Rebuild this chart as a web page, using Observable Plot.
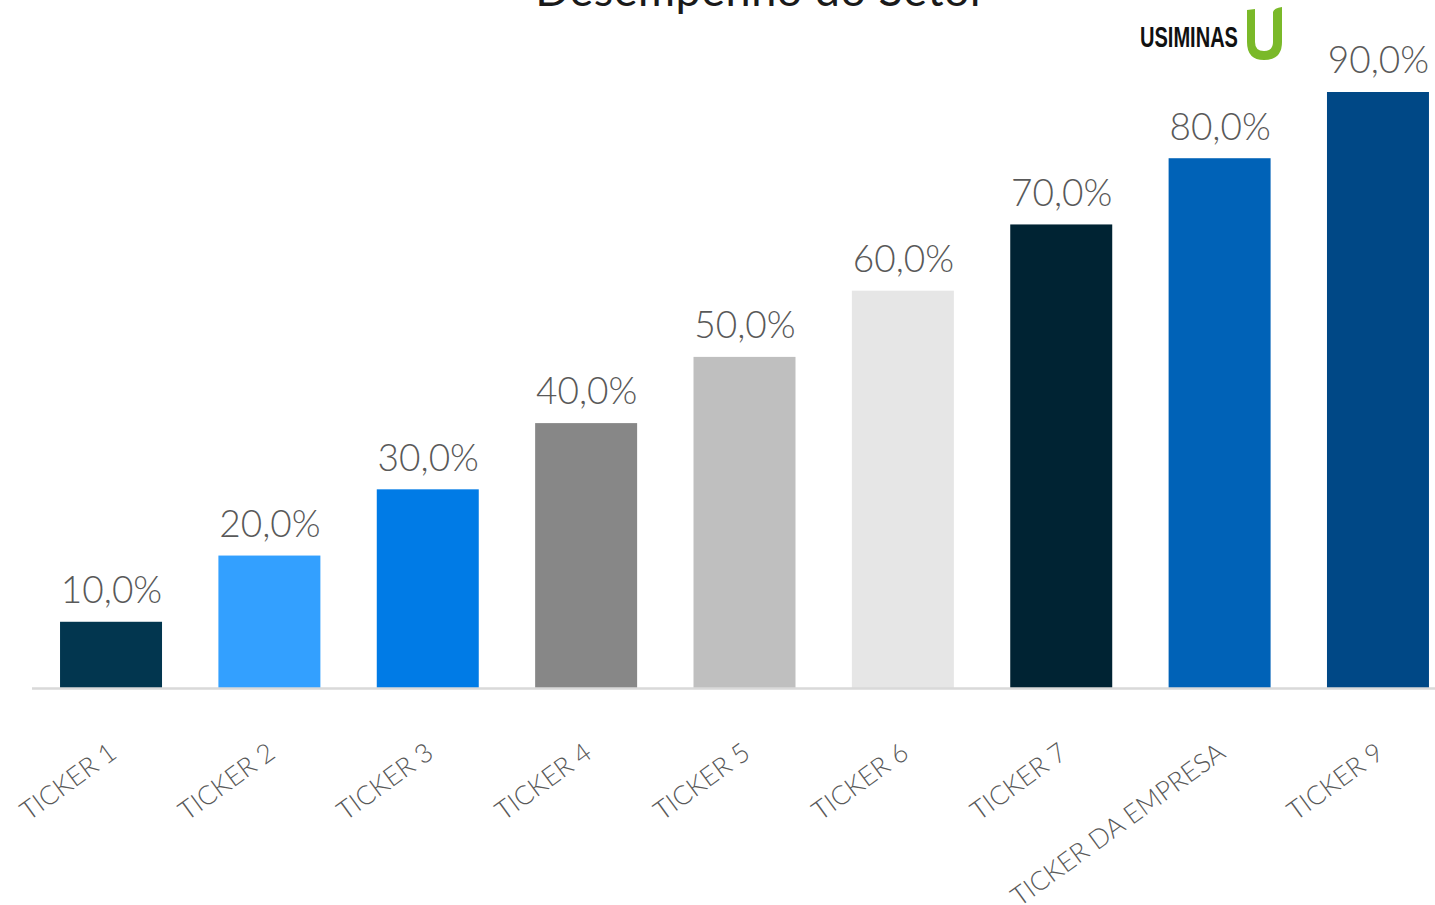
<!DOCTYPE html>
<html>
<head>
<meta charset="utf-8">
<script src="https://cdn.jsdelivr.net/npm/d3@7"></script>
<script src="https://cdn.jsdelivr.net/npm/@observablehq/plot@0.6"></script>
<style>
  html, body { margin: 0; padding: 0; background: #fff; overflow: hidden; }
  #wrap { position: relative; width: 1435px; height: 905px; }
  #title { position: absolute; left: 0; width: 1522px; text-align: center; top: -38px;
    font-family: Lato, sans-serif; font-size: 45px; color: #1a1a1a; letter-spacing: 0.5px; }
  #logo { position: absolute; left: 1138px; top: 4px; }
  #chart { position: absolute; left: 0; top: 0; }
</style>
</head>
<body>
<div id="wrap">
  <div id="chart"></div>
  <div id="title">Desempenho do Setor</div>
  <svg id="logo" width="150" height="60" viewBox="0 0 150 60">
    <text x="2" y="43" font-family="Liberation Sans, Arial, sans-serif" font-weight="bold" font-size="29" fill="#111"
      textLength="98" lengthAdjust="spacingAndGlyphs">USIMINAS</text>
    <path d="M109 6 L117 5 L117 38 Q117 47 126 47 Q135 47 135 38 L135 8 Q136 4 144 3 L144 38 Q144 56 126 56 Q109 56 109 38 Z" fill="#7AB929"/>
  </svg>
</div>
<script>
const tickers = ["TICKER 1","TICKER 2","TICKER 3","TICKER 4","TICKER 5","TICKER 6","TICKER 7","TICKER DA EMPRESA","TICKER 9"];
const values = [0.10, 0.20, 0.30, 0.40, 0.50, 0.60, 0.70, 0.80, 0.90];
const colors = ["#02364F","#33A0FF","#007BE6","#878787","#BFBFBF","#E6E6E6","#002333","#0062B7","#004886"];

const data = tickers.map((t, i) => ({ticker: t, value: values[i], color: colors[i]}));
const fmt = v => (v * 100).toFixed(1).replace(".", ",") + "%";

const chart = Plot.plot({
  width: 1435,
  height: 905,
  marginTop: 92,
  marginBottom: 217,
  marginLeft: 32,
  marginRight: 0,
  style: { fontFamily: "Lato, sans-serif", background: "white" },
  x: { domain: tickers, range: [53.7, 1435.3], paddingInner: 0.356, paddingOuter: 0.04, round: false, label: null },
  y: { domain: [0, 0.9], axis: null },
  marks: [
    Plot.barY(data, { x: "ticker", y: "value", fill: "color" }),
    Plot.ruleY([0], { stroke: "#D9D9D9", strokeWidth: 2.5 }),
    Plot.text(data, { x: "ticker", y: "value", text: d => fmt(d.value), dy: -31, fontSize: 37, fill: "#595959", fontWeight: 300 }),
    Plot.axisX({ tickSize: 0, tickPadding: 61, tickRotate: -36, fontSize: 26.5, fill: "#595959", fontWeight: 300, dx: 2, label: null })
  ]
});
document.getElementById("chart").appendChild(chart);
</script>
</body>
</html>
